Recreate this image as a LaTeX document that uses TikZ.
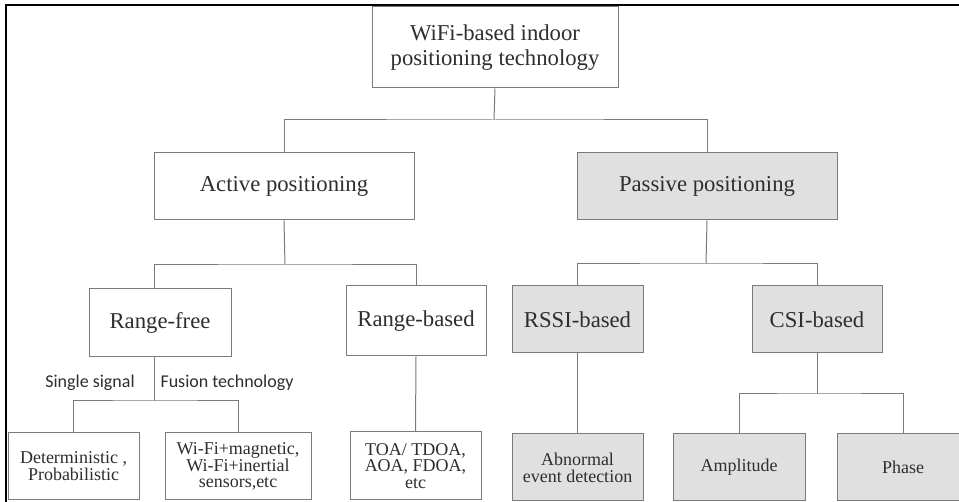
\documentclass[tikz,border=0pt]{standalone}
\usepackage{fontspec}
\setmainfont{Liberation Serif}
\newfontfamily\lblfont{Carlito}
\definecolor{boxgray}{HTML}{7A7A7A}
\definecolor{txtgray}{HTML}{2E2E2E}
\definecolor{fillgray}{HTML}{E0E0E0}
\begin{document}
\begin{tikzpicture}[x=1pt,y=-1pt,
  box/.style={draw=boxgray, line width=1pt, inner sep=0pt, align=center, text=txtgray,
    font=\fontsize{22.7}{25}\selectfont},
  small/.style={box, font=\fontsize{18}{16.8}\selectfont},
  shaded/.style={fill=fillgray},
  conn/.style={draw=boxgray, line width=1pt},
  lbl/.style={inner sep=0pt, text=txtgray, font=\lblfont\fontsize{18}{20}\selectfont}]
\useasboundingbox (0,0) rectangle (959,502);
\clip (0,0) rectangle (959,502);
\fill[white] (0,0) rectangle (959,502);
% frame
\draw[line width=2.5pt, black] (6,600) -- (6,5) -- (1000,5);
% nodes
\node[box, minimum width=246pt, minimum height=81pt] (root) at (495,47.5) {WiFi-based indoor\\positioning technology};
\node[box, minimum width=260pt, minimum height=67pt] (active) at (284,186.5) {Active positioning};
\node[box, shaded, minimum width=260pt, minimum height=67pt] (passive) at (707,186.5) {Passive positioning};
\node[box, minimum width=142pt, minimum height=68pt] (rf) at (160,323) {Range-free};
\node[box, minimum width=140pt, minimum height=70pt] (rb) at (416,321) {Range-based};
\node[box, shaded, minimum width=131pt, minimum height=67pt] (rssi) at (577.5,319.5) {RSSI-based};
\node[box, shaded, minimum width=130pt, minimum height=67pt] (csi) at (817,319.5) {CSI-based};
\node[small, minimum width=131pt, minimum height=67pt] (det) at (73.5,466.5) {Deterministic ,\\Probabilistic};
\node[small, minimum width=146pt, minimum height=67pt] (wifi) at (238,466.5) {Wi-Fi+magnetic,\\Wi-Fi+inertial\\sensors,etc};
\node[small, minimum width=131pt, minimum height=68pt] (toa) at (415.5,466) {TOA/ TDOA,\\AOA, FDOA,\\etc};
\node[small, shaded, minimum width=131pt, minimum height=67pt] (abn) at (577.5,467.5) {Abnormal\\event detection};
\node[small, shaded, minimum width=132pt, minimum height=67pt] (amp) at (739,467.5) {Amplitude};
\node[small, shaded, minimum width=132pt, minimum height=67pt] (phase) at (903,467.5) {Phase};
\node[lbl] (ss) at (90,383) {Single signal};
\node[lbl] (ft) at (227,383) {Fusion technology};
% junctions
\coordinate (j1) at (494,120);
\coordinate (j2) at (285,265);
\coordinate (j3) at (154,401);
\coordinate (j4) at (706,264);
\coordinate (j5) at (817,394);
% connectors
\draw[conn] (root.south) -- (j1);
\draw[conn] (active.north) |- (j1) -| (passive.north);
\draw[conn] (active.south) -- (j2);
\draw[conn] ([xshift=-6pt]rf.north) |- (j2) -| (rb.north);
\draw[conn] ([xshift=-6pt]rf.south) -- (j3);
\draw[conn] (det.north) |- (j3) -| (wifi.north);
\draw[conn] (rb.south) -- (toa.north);
\draw[conn] (passive.south) -- (j4);
\draw[conn] (rssi.north) |- (j4) -| (csi.north);
\draw[conn] (rssi.south) -- (abn.north);
\draw[conn] (csi.south) -- (j5);
\draw[conn] (amp.north) |- (j5) -| (phase.north);
\end{tikzpicture}
\end{document}
